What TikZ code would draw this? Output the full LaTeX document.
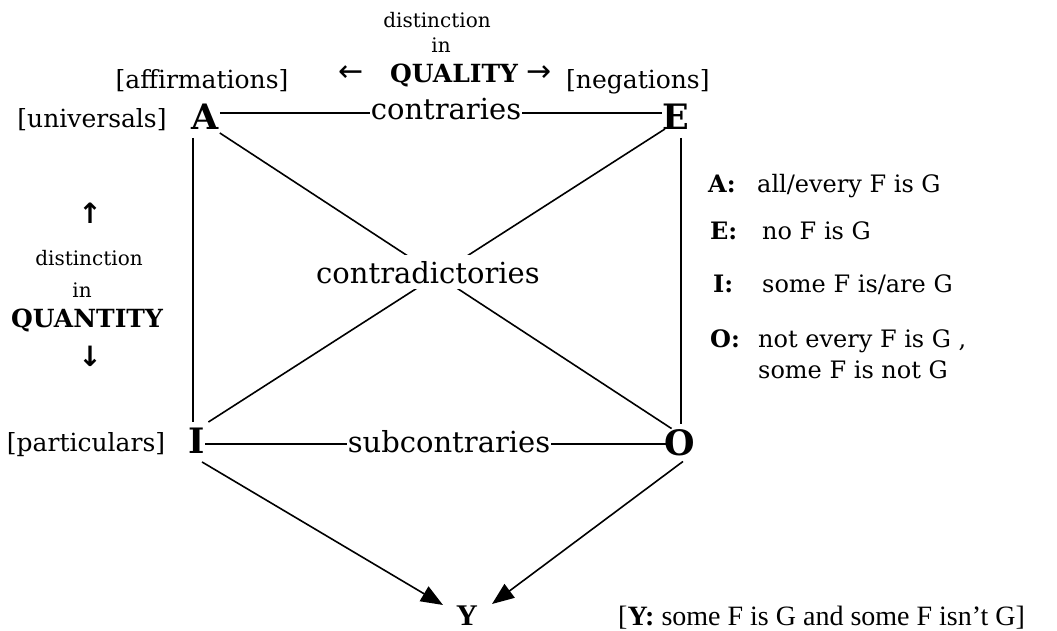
\documentclass[tikz,border=0pt]{standalone}
\usepackage{fontspec}
\setmainfont{DejaVu Serif}
\newfontfamily\tnr{Liberation Serif}
\newfontfamily\arrf{DejaVu Sans}
\usetikzlibrary{arrows.meta,calc}
\newcommand\fsz[1]{\fontsize{#1}{#1}\selectfont}
\tikzset{
  vtx/.style={font=\fsz{35}\bfseries, inner sep=0pt},
  lbl/.style={font=\fsz{25}, inner sep=0pt, anchor=base},
  mid/.style={font=\fsz{29}, fill=white, inner xsep=1pt, inner ysep=3pt, anchor=base},
  smalltxt/.style={font=\fsz{20}, inner sep=0pt, anchor=base},
  bigtxt/.style={font=\fsz{25}\bfseries, inner sep=0pt, anchor=base},
  arrtxt/.style={font=\fsz{30}\arrf, inner sep=0pt},
  vartxt/.style={font=\fsz{28}\arrf\bfseries, inner sep=0pt},
  leg/.style={font=\fsz{24}, inner sep=0pt, anchor=base west},
  legkey/.style={font=\fsz{24}\bfseries, inner sep=0pt, anchor=base west},
  edge/.style={line width=1.6pt},
  imp/.style={line width=1.6pt, -{Triangle[length=22pt,width=17pt]}}
}
\begin{document}
\begin{tikzpicture}[x=1pt,y=-1pt]
\useasboundingbox (0,0) rectangle (1057,631);
\fill[white] (0,0) rectangle (1057,631);

% vertices
\node[vtx] (A) at (205,117) {A};
\node[vtx] (E) at (676,117) {E};
\node[vtx] (I) at (197,441) {I};
\node[vtx] (O) at (680,443) {O};
\node[vtx, font=\fsz{30}\tnr\bfseries] (Y) at (467,616) {Y};

% square sides
\draw[edge] ($(A.east)+(1,-4)$) -- ($(E.west)+(-0.5,-4)$);
\draw[edge] ($(I.east)+(0,3)$) -- ($(O.west)+(1,1)$);
\draw[edge] ($(A.south west)+(1.5,8)$) -- ($(A.south west |- I.north)+(1.5,-6)$);
\draw[edge] ($(E.south)+(5,8)$) -- ($(O.north)+(1,-6)$);
% diagonals
\draw[edge] ($(A.south east)+(1,3)$) -- ($(O.north west)+(7,-1)$);
\draw[edge] ($(E.south west)+(2.5,-1)$) -- ($(I.north east)+(3,-6)$);
% implications
\draw[imp] ($(I.south)+(5,8)$) -- ($(Y.north west)+(-13,-1)$);
\draw[imp] ($(O.south)+(3,5)$) -- ($(Y.north east)+(14,-2)$);

% edge labels
\node[mid] (contr) at (446,120) {contraries};
\node[mid] (subc) at (449,452) {subcontraries};
\node[mid, inner ysep=6pt] (contrad) at (428,283) {contradictories};

% quality
\node[smalltxt] (dq) at (437,28) {distinction};
\node[smalltxt] (iq) at (441,53) {in};
\node[arrtxt] (la) at (351,74) {←};
\node[bigtxt] (qual) at (454,83) {QUALITY};
\node[arrtxt] (ra) at (539,74) {→};

% side labels
\node[lbl] (aff) at (202,89) {[affirmations]};
\node[lbl, anchor=base west] (neg) at (566,89) {[negations]};
\node[lbl] (uni) at (92,128) {[universals]};
\node[lbl] (par) at (86,451) {[particulars]};

% quantity
\node[vartxt] (ua) at (90,213) {↑};
\node[smalltxt] (dn) at (89,265) {distinction};
\node[smalltxt] (in2) at (82,297) {in};
\node[bigtxt] (quant) at (87,327) {QUANTITY};
\node[vartxt] (da) at (90,356) {↓};

% legend
\node[legkey] (kA) at (708,193) {A:};
\node[leg] (tA) at (757,193) {all/every F is G};
\node[legkey] (kE) at (710,240) {E:};
\node[leg] (tE) at (762,240) {no F is G};
\node[legkey] (kI) at (713,292) {I:};
\node[leg] (tI) at (762,292) {some F is/are G};
\node[legkey] (kO) at (710,347) {O:};
\node[leg] (tO1) at (758,347) {not every F is G ,};
\node[leg] (tO2) at (758,378) {some F is not G};

% Y legend
\node[inner sep=0pt, anchor=base west, font=\fsz{28}\tnr] (yleg) at (618,625) {[\textbf{Y:} some F is G and some F isn’t G]};
\end{tikzpicture}
\end{document}
